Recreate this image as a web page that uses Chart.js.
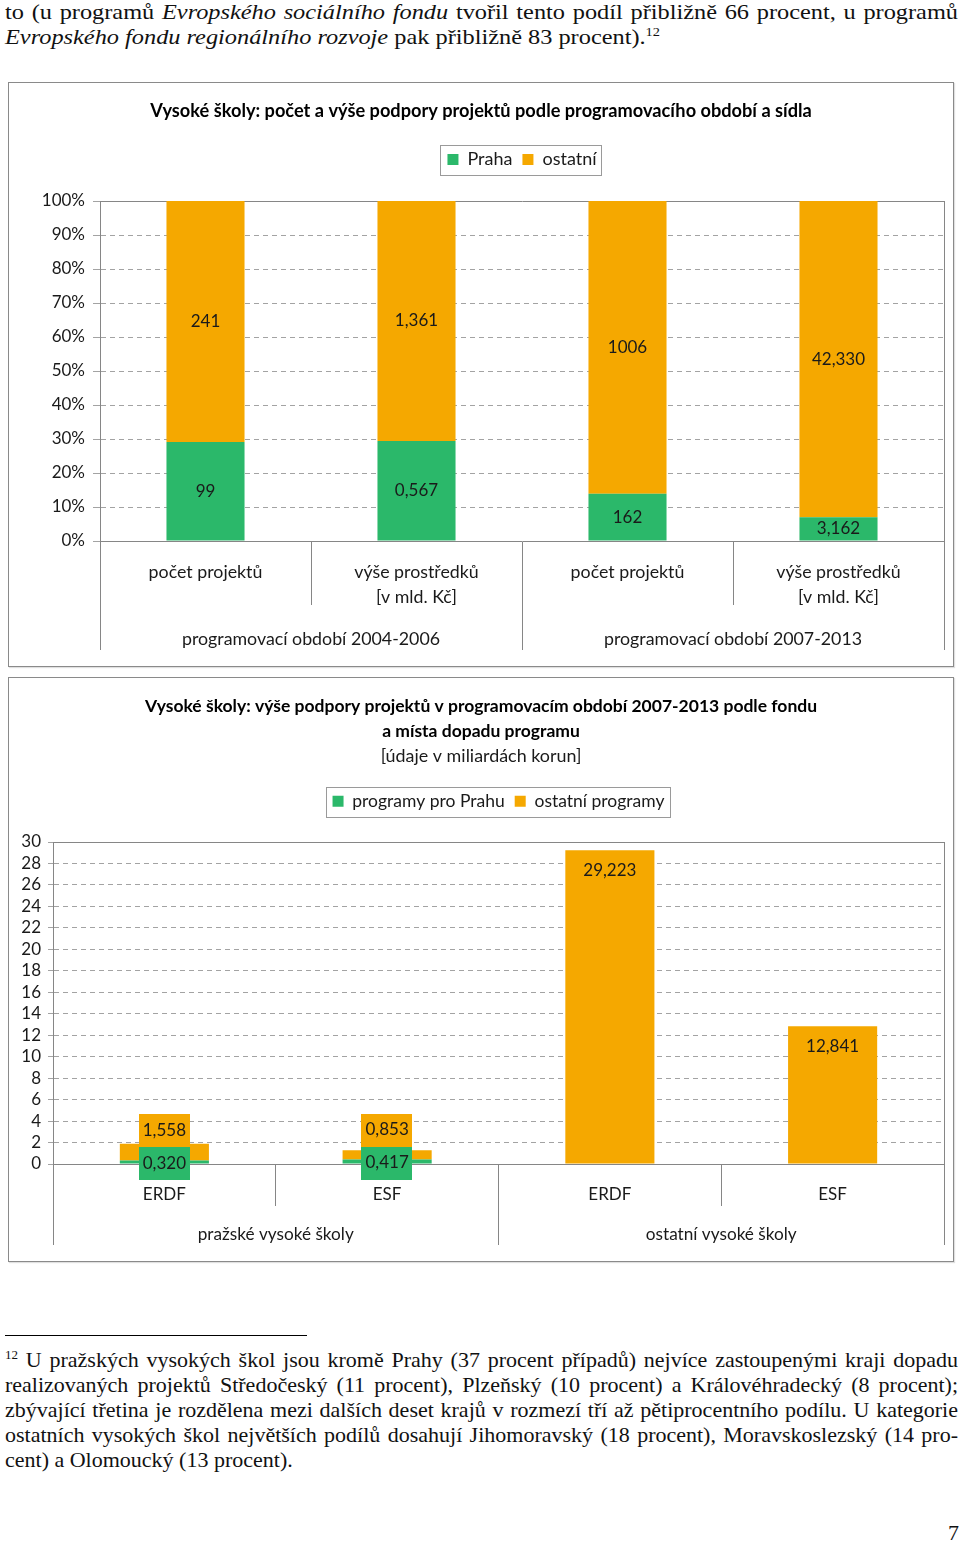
<!DOCTYPE html>
<html>
<head>
<meta charset="utf-8">
<script src="https://cdn.jsdelivr.net/npm/chart.js@4.4.1/dist/chart.umd.min.js"></script>
<style>
html,body{margin:0;padding:0;background:#fff;}
body{width:960px;height:1543px;position:relative;overflow:hidden;font-family:"Liberation Serif",serif;color:#111;}
.tl{position:absolute;left:5px;display:inline-block;white-space:nowrap;font-size:22px;line-height:25px;}
.tl .sup{font-size:13px;position:relative;top:-8px;}
.box{position:absolute;left:8px;width:944px;height:583px;border:1px solid #8a8a8a;box-shadow:1px 1px 1px rgba(0,0,0,0.12);}
.box canvas{display:block;}
#rule{position:absolute;left:5px;top:1335px;width:302px;height:1px;background:#000;}
#pnum{position:absolute;left:948px;top:1520px;font-size:22px;line-height:25px;}
</style>
</head>
<body>
<span class="tl" data-g="top" data-j="1" style="top:-1px">to (u programů <i>Evropského sociálního fondu</i> tvořil tento podíl přibližně 66 procent, u programů</span>
<span class="tl" data-g="top" data-ref="655" style="top:24px"><i>Evropského fondu regionálního rozvoje</i> pak přibližně 83 procent).<span class="sup">12</span></span>

<div class="box" style="top:82px"><canvas id="c1" width="944" height="583"></canvas></div>
<div class="box" style="top:677px"><canvas id="c2" width="944" height="583"></canvas></div>

<div id="rule"></div>
<span class="tl" data-g="foot" data-j="1" style="top:1347px"><span class="sup">12</span> U pražských vysokých škol jsou kromě Prahy (37 procent případů) nejvíce zastoupenými kraji dopadu</span>
<span class="tl" data-g="foot" data-j="1" style="top:1372px">realizovaných projektů Středočeský (11 procent), Plzeňský (10 procent) a Královéhradecký (8 procent);</span>
<span class="tl" data-g="foot" data-j="1" style="top:1397px">zbývající třetina je rozdělena mezi dalších deset krajů v rozmezí tří až pětiprocentního podílu. U kategorie</span>
<span class="tl" data-g="foot" data-j="1" style="top:1422px">ostatních vysokých škol největších podílů dosahují Jihomoravský (18 procent), Moravskoslezský (14 pro-</span>
<span class="tl" data-g="foot" style="top:1447px">cent) a Olomoucký (13 procent).</span>
<div id="pnum">7</div>

<script>
// ---------- data: chart 1 ----------
const chart1Categories = [['počet projektů'], ['výše prostředků', '[v mld. Kč]'], ['počet projektů'], ['výše prostředků', '[v mld. Kč]']];
const chart1Periods = ['programovací období 2004-2006', 'programovací období 2007-2013'];
const chart1Praha = [99, 0.567, 162, 3.162];
const chart1Ostatni = [241, 1.361, 1006, 42.330];
const chart1Decimals = [0, 3, 0, 3];
const chart1SeriesNames = ['Praha', 'ostatní'];
const chart1Title = 'Vysoké školy: počet a výše podpory projektů podle programovacího období a sídla';

// ---------- data: chart 2 ----------
const chart2Categories = ['ERDF', 'ESF', 'ERDF', 'ESF'];
const chart2Groups = ['pražské vysoké školy', 'ostatní vysoké školy'];
const chart2Praha = [0.320, 0.417, 0, 0];
const chart2Ostatni = [1.558, 0.853, 29.223, 12.841];
const chart2SeriesNames = ['programy pro Prahu', 'ostatní programy'];
const chart2Title = ['Vysoké školy: výše podpory projektů v programovacím období 2007-2013 podle fondu', 'a místa dopadu programu'];
const chart2Subtitle = '[údaje v miliardách korun]';

// ---------- page text justification ----------
(function layoutText() {
  const W = 953;
  const lines = Array.from(document.querySelectorAll('.tl'));
  const widths = new Map(lines.map(el => [el, el.getBoundingClientRect().width]));
  const groups = {};
  lines.forEach(el => { (groups[el.dataset.g] = groups[el.dataset.g] || []).push(el); });
  Object.values(groups).forEach(g => {
    let s = 1;
    const ref = g.find(el => el.dataset.ref);
    if (ref) s = Number(ref.dataset.ref) / widths.get(ref);
    else g.forEach(el => { if (el.dataset.j) s = Math.min(s, W / widths.get(el)); });
    g.forEach(el => {
      el.style.transformOrigin = '0 0';
      el.style.transform = 'scaleX(' + s + ')';
      if (el.dataset.j) {
        const spaces = (el.textContent.match(/ /g) || []).length;
        el.style.wordSpacing = ((W / s - widths.get(el)) / spaces) + 'px';
      }
    });
  });
})();

// ---------- helpers ----------
const GREEN = '#2bb86a', ORANGE = '#f5a800', AXIS = '#868686', GRID = '#a3a3a3', TEXT = '#1a1a1a';
const fmt = (v, d) => v.toFixed(d).replace('.', ',');
const shareOf = (a, b) => a.map((v, i) => v / (v + b[i]) * 100);
const edgeOnly = c => (c.type !== 'tick' || c.index === 0) ? AXIS : 'rgba(0,0,0,0)';

Chart.defaults.font.family = 'Lato, "Open Sans", sans-serif';
Chart.defaults.font.size = 17;
Chart.defaults.color = TEXT;

const valueLabels = {
  id: 'valueLabels',
  afterDatasetsDraw(chart, args, opts) {
    const ctx = chart.ctx;
    ctx.save();
    ctx.font = '17px Lato';
    ctx.textAlign = 'center';
    ctx.textBaseline = 'middle';
    const count = chart.data.labels.length;
    for (let i = 0; i < count; i++) {
      let lowerBoxTop = null;
      chart.data.datasets.forEach((ds, di) => {
        const text = ds.labelTexts[i];
        if (!text) return;
        const el = chart.getDatasetMeta(di).data[i];
        const top = Math.min(el.y, el.base), bottom = Math.max(el.y, el.base);
        const h = opts.boxHeight;
        let cy = opts.anchors[di] === 'end' ? top + opts.endOffset : (top + bottom) / 2 + (opts.centerShift || 0);
        if (lowerBoxTop !== null && h > 0 && cy + h / 2 > lowerBoxTop) cy = lowerBoxTop - h / 2;
        if (opts.background) {
          const w = ctx.measureText(text).width + 8;
          ctx.fillStyle = ds.backgroundColor;
          ctx.fillRect(Math.round(el.x - w / 2), Math.round(cy - h / 2), Math.round(w), h);
        }
        ctx.fillStyle = TEXT;
        ctx.fillText(text, el.x, cy);
        lowerBoxTop = cy - h / 2;
      });
    }
    ctx.restore();
  }
};

const legendFrame = {
  id: 'legendFrame',
  afterDraw(chart) {
    const lg = chart.legend;
    if (!lg || !lg.legendHitBoxes || !lg.legendHitBoxes.length) return;
    const hb = lg.legendHitBoxes;
    const l = Math.min(...hb.map(h => h.left)), r = Math.max(...hb.map(h => h.left + h.width));
    const t = Math.min(...hb.map(h => h.top)), b = Math.max(...hb.map(h => h.top + h.height));
    const ctx = chart.ctx;
    ctx.save();
    ctx.strokeStyle = '#9a9a9a';
    ctx.lineWidth = 1;
    ctx.strokeRect(Math.round(l - 7) + 0.5, Math.round(t - 6) + 0.5, Math.round(r - l + 12), Math.round(b - t + 12));
    ctx.restore();
  }
};

function makeScales(cfg) {
  return {
    x: {
      type: 'category', position: 'bottom', stacked: true, offset: true, weight: 0,
      grid: { display: true, offset: true, drawOnChartArea: true, drawTicks: true, tickLength: cfg.xH, color: edgeOnly, tickColor: AXIS, lineWidth: 1 },
      border: { display: true, color: AXIS },
      ticks: { autoSkip: false, mirror: true, maxRotation: 0, minRotation: 0, padding: cfg.xPad, color: TEXT, font: { size: cfg.xFont, lineHeight: cfg.xLine } },
      afterFit: s => { s.height = cfg.xH; }
    },
    x2: {
      type: 'category', position: 'bottom', labels: cfg.groups, offset: true, weight: 1,
      grid: { display: true, offset: true, drawOnChartArea: false, drawTicks: true, tickLength: cfg.x2H, tickColor: AXIS, color: AXIS },
      border: { display: false },
      ticks: { autoSkip: false, mirror: true, maxRotation: 0, minRotation: 0, padding: cfg.x2Pad, color: TEXT, font: { size: cfg.x2Font } },
      afterFit: s => { s.height = cfg.x2H; }
    },
    xTop: {
      type: 'linear', position: 'top', display: true,
      grid: { display: false }, ticks: { display: false },
      border: { display: true, color: AXIS },
      afterFit: s => { s.height = cfg.topGap; }
    },
    y: {
      type: 'linear', position: 'left', stacked: true, min: 0, max: cfg.yMax,
      ticks: { stepSize: cfg.yStep, maxTicksLimit: 40, autoSkip: false, padding: cfg.yPad, color: TEXT, font: { size: 17 }, callback: cfg.yFmt },
      grid: { color: GRID, tickLength: cfg.yTick, tickColor: GRID, drawTicks: true, lineWidth: 1 },
      border: { display: true, color: AXIS, dash: [5, 4] },
      afterFit: s => { s.width = cfg.yW; }
    },
    yRight: {
      type: 'linear', position: 'right', display: true,
      grid: { display: false }, ticks: { display: false },
      border: { display: false },
      afterFit: s => { s.width = cfg.rightGap; }
    }
  };
}

// ---------- chart 1 ----------
new Chart(document.getElementById('c1'), {
  type: 'bar',
  data: {
    labels: chart1Categories,
    datasets: [
      { label: chart1SeriesNames[0], data: shareOf(chart1Praha, chart1Ostatni), backgroundColor: GREEN, borderWidth: 0,
        labelTexts: chart1Praha.map((v, i) => fmt(v, chart1Decimals[i])), xAxisID: 'x', yAxisID: 'y', barPercentage: 0.37, categoryPercentage: 1 },
      { label: chart1SeriesNames[1], data: shareOf(chart1Ostatni, chart1Praha), backgroundColor: ORANGE, borderWidth: 0,
        labelTexts: chart1Ostatni.map((v, i) => fmt(v, chart1Decimals[i])), xAxisID: 'x', yAxisID: 'y', barPercentage: 0.37, categoryPercentage: 1 }
    ]
  },
  options: {
    responsive: false, devicePixelRatio: 1, animation: false,
    layout: { padding: { left: 0, right: 0, top: 0, bottom: 16 } },
    plugins: {
      title: { display: true, text: chart1Title, color: '#000', font: { size: 18.2, weight: 'bold' }, padding: { top: 17.1, bottom: 18.56 } },
      legend: { display: true, position: 'top', fullSize: false, labels: { boxWidth: 11, boxHeight: 11, padding: 10, color: TEXT, font: { size: 18 } } },
      tooltip: { enabled: false },
      valueLabels: { anchors: ['center', 'center'], boxHeight: 0, background: false }
    },
    scales: makeScales({ xH: 64, xPad: -44, xFont: 17.8, xLine: 25 / 17.8, x2H: 45, x2Pad: -45.2, x2Font: 17.8, groups: chart1Periods, topGap: 22.5,
      yMax: 100, yStep: 10, yPad: 8, yTick: 7, yW: 91, rightGap: 9, yFmt: v => v + '%' })
  },
  plugins: [valueLabels, legendFrame]
});

// ---------- chart 2 ----------
new Chart(document.getElementById('c2'), {
  type: 'bar',
  data: {
    labels: chart2Categories,
    datasets: [
      { label: chart2SeriesNames[0], data: chart2Praha, backgroundColor: GREEN, borderWidth: 0,
        labelTexts: chart2Praha.map(v => v > 0 ? fmt(v, 3) : ''), xAxisID: 'x', yAxisID: 'y', barPercentage: 0.40, categoryPercentage: 1 },
      { label: chart2SeriesNames[1], data: chart2Ostatni, backgroundColor: ORANGE, borderWidth: 0,
        labelTexts: chart2Ostatni.map(v => v > 0 ? fmt(v, 3) : ''), xAxisID: 'x', yAxisID: 'y', barPercentage: 0.40, categoryPercentage: 1 }
    ]
  },
  options: {
    responsive: false, devicePixelRatio: 1, animation: false,
    layout: { padding: { left: 0, right: 0, top: 0, bottom: 16 } },
    plugins: {
      title: { display: true, text: chart2Title, color: '#000', font: { size: 17.5, weight: 'bold', lineHeight: 25 / 17.5 }, padding: { top: 16, bottom: 0 } },
      subtitle: { display: true, text: chart2Subtitle, color: TEXT, font: { size: 17.9, lineHeight: 25 / 17.9 }, padding: { top: 0, bottom: 13.5 } },
      legend: { display: true, position: 'top', fullSize: false, labels: { boxWidth: 11, boxHeight: 11, padding: 10, color: TEXT, font: { size: 17.5 } } },
      tooltip: { enabled: false },
      valueLabels: { anchors: ['center', 'end'], endOffset: 20, centerShift: 1.5, boxHeight: 33, background: true }
    },
    scales: makeScales({ xH: 42, xPad: -40.7, xFont: 17, xLine: 1.2, x2H: 39, x2Pad: -39, x2Font: 17.2, groups: chart2Groups, topGap: 22,
      yMax: 30, yStep: 2, yPad: 7, yTick: 5, yW: 44, rightGap: 9, yFmt: v => v })
  },
  plugins: [valueLabels, legendFrame]
});
</script>
</body>
</html>
